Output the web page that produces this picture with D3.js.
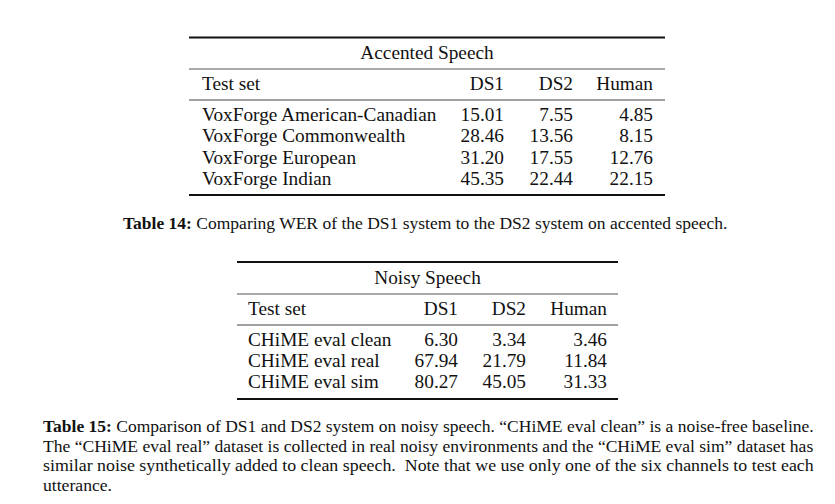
<!DOCTYPE html>
<meta charset="utf-8">
<style>
body { margin: 0; background: #fff; }
text { font-family: "Liberation Serif", "Times New Roman", serif; fill: #111; }
.cell { font-size: 19.3px; }
.cap { font-size: 17px; }
</style>
<svg width="835" height="504"></svg>
<script src="https://cdn.jsdelivr.net/npm/d3@7/dist/d3.min.js"></script>
<script>

// table 14
var accentSets = ["VoxForge American-Canadian", "VoxForge Commonwealth", "VoxForge European", "VoxForge Indian"];
var accentDS1 = [15.01, 28.46, 31.20, 45.35];
var accentDS2 = [7.55, 13.56, 17.55, 22.44];
var accentHuman = [4.85, 8.15, 12.76, 22.15];

// table 15
var noisySets = ["CHiME eval clean", "CHiME eval real", "CHiME eval sim"];
var noisyDS1 = [6.30, 67.94, 80.27];
var noisyDS2 = [3.34, 21.79, 45.05];
var noisyHuman = [3.46, 11.84, 31.33];

var columns = ["Test set", "DS1", "DS2", "Human"];

var cap14 = ["Table 14:", " Comparing WER of the DS1 system to the DS2 system on accented speech."];
var cap15 = [
  ["Table 15:", " Comparison of DS1 and DS2 system on noisy speech. \u201cCHiME eval clean\u201d is a noise-free baseline."],
  ["", "The \u201cCHiME eval real\u201d dataset is collected in real noisy environments and the \u201cCHiME eval sim\u201d dataset has"],
  ["", "similar noise synthetically added to clean speech.  Note that we use only one of the six channels to test each"],
  ["", "utterance."]
];

var svg = d3.select("svg");
var fmt = d3.format(".2f");

function drawTable(o) {
  var g = svg.append("g");
  var colX = d3.scaleOrdinal().domain(columns).range(o.colX);
  var rowY = d3.scaleLinear().domain([0, 1]).range([o.firstRow, o.firstRow + o.step]);

  function rule(y, w, c) {
    g.append("line").attr("x1", o.x0).attr("x2", o.x1).attr("y1", y).attr("y2", y)
      .attr("stroke", c).attr("stroke-width", w);
  }
  rule(o.top, 1.8, "#111");
  rule(o.mid, 1, "#555");
  rule(o.head, 1.2, "#444");
  rule(o.bottom, 1.8, "#111");

  g.append("text").attr("class", "cell").attr("x", (o.x0 + o.x1) / 2).attr("y", o.titleY)
    .attr("text-anchor", "middle").text(o.title);

  g.selectAll(".hd").data(columns).enter().append("text")
    .attr("class", "cell hd")
    .attr("x", function(d) { return colX(d); })
    .attr("y", o.headY)
    .attr("text-anchor", function(d, i) { return i ? "end" : "start"; })
    .text(function(d) { return d; });

  var rows = o.sets.map(function(s, i) { return [s, o.ds1[i], o.ds2[i], o.human[i]]; });
  var r = g.selectAll(".row").data(rows).enter().append("g")
    .attr("transform", function(d, i) { return "translate(0," + rowY(i) + ")"; });
  r.selectAll("text").data(function(d) { return d; }).enter().append("text")
    .attr("class", "cell")
    .attr("x", function(d, i) { return colX(columns[i]); })
    .attr("text-anchor", function(d, i) { return i ? "end" : "start"; })
    .text(function(d, i) { return i ? fmt(d) : d; });
}

drawTable({
  title: "Accented Speech", sets: accentSets, ds1: accentDS1, ds2: accentDS2, human: accentHuman,
  x0: 189, x1: 665, top: 37.5, mid: 69, head: 100, bottom: 195,
  titleY: 59, headY: 90, firstRow: 121, step: 21.3,
  colX: [202, 504, 573, 653]
});

drawTable({
  title: "Noisy Speech", sets: noisySets, ds1: noisyDS1, ds2: noisyDS2, human: noisyHuman,
  x0: 237, x1: 618, top: 262, mid: 294, head: 325, bottom: 399,
  titleY: 284, headY: 315, firstRow: 346, step: 21,
  colX: [248, 458, 526, 607]
});

function capLine(parts, x, y, width) {
  var t = svg.append("text").attr("class", "cap").attr("x", 0).attr("y", 0)
    .style("white-space", "pre");
  t.append("tspan").style("font-weight", "bold").text(parts[0]);
  t.append("tspan").text(parts[1]);
  var w = t.node().getComputedTextLength();
  return { node: t, w: w, x: x, y: y, width: width };
}

function place(l, sx) {
  l.node.attr("transform", "translate(" + l.x + "," + l.y + ") scale(" + sx + ",1)");
}

// caption 14: one line, centred
var c14 = capLine(cap14, 123, 229, 605);
place(c14, c14.width / c14.w);

// caption 15: justified block
var lines = cap15.map(function(p, i) { return capLine(p, 43, 432 + i * 19.6, 771); });
var scales = lines.slice(0, 3).map(function(l) { return l.width / l.w; });
lines.forEach(function(l, i) { place(l, i < 3 ? scales[i] : d3.mean(scales)); });

</script>
